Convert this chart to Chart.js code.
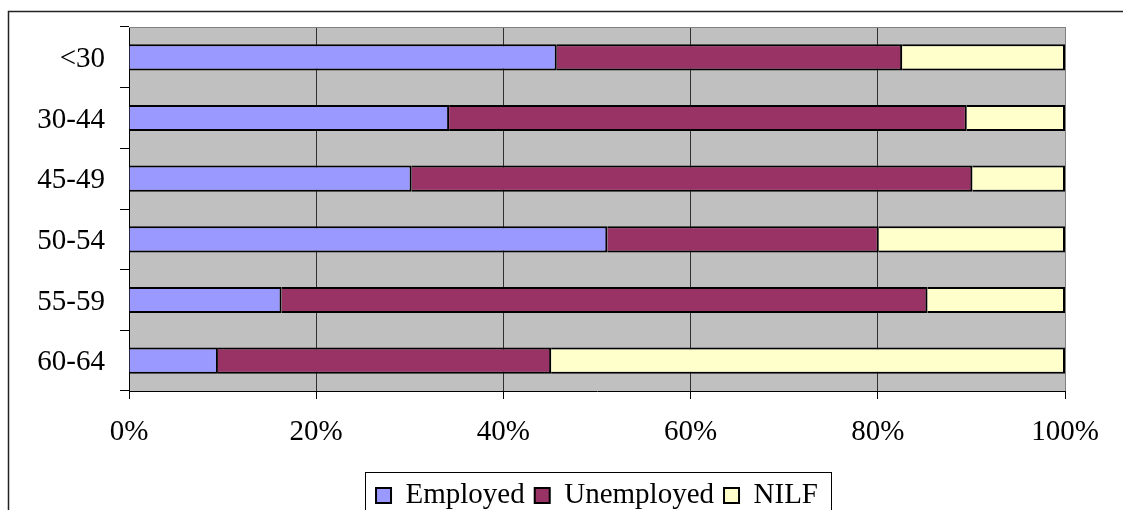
<!DOCTYPE html>
<html>
<head>
<meta charset="utf-8">
<script src="https://cdn.jsdelivr.net/npm/chart.js@4"></script>
<style>
  html, body { margin: 0; padding: 0; background: #fff; overflow: hidden; }
  canvas { display: block; }
</style>
</head>
<body>
<canvas id="labourChart" width="1123" height="523"></canvas>
<script>
// age groups and labour status shares (%)
const ageGroups = ['<30', '30-44', '45-49', '50-54', '55-59', '60-64'];
const employed = [45.7, 34.2, 30.2, 51.1, 16.3, 9.5];
const unemployed = [36.9, 55.3, 59.9, 29.0, 69.0, 35.6];
const nilf = [17.4, 10.5, 9.9, 19.9, 14.7, 54.9];
const xTicks = [0, 20, 40, 60, 80, 100];

const serif = { family: '"Liberation Serif", "Times New Roman", serif', size: 29 };

// grey plot background, plot frame, outer frame and legend box
const framePlugin = {
  id: 'frames',
  beforeDraw(chart) {
    const { ctx, chartArea: a } = chart;
    ctx.save();
    ctx.fillStyle = '#C0C0C0';
    ctx.fillRect(a.left, a.top, a.right - a.left, a.bottom - a.top);
    ctx.restore();
  },
  beforeDatasetsDraw(chart) {
    const { ctx, chartArea: a } = chart;
    ctx.save();
    ctx.strokeStyle = '#808080';
    ctx.lineWidth = 1;
    ctx.beginPath();
    ctx.moveTo(a.left, a.top + 0.5);
    ctx.lineTo(a.right, a.top + 0.5);
    ctx.stroke();
    ctx.restore();
  },
  afterDraw(chart) {
    const { ctx, legend } = chart;
    ctx.save();
    ctx.strokeStyle = '#222';
    ctx.lineWidth = 1.5;
    ctx.beginPath();
    ctx.moveTo(8.5, chart.height + 5);
    ctx.lineTo(8.5, 11.5);
    ctx.lineTo(chart.width + 5, 11.5);
    ctx.stroke();

    const boxes = legend.legendHitBoxes;
    if (boxes && boxes.length) {
      const first = boxes[0];
      const last = boxes[boxes.length - 1];
      const left = Math.round(first.left - 11) + 0.5;
      const right = Math.round(last.left + last.width + 13) + 0.5;
      const top = 472.5;
      ctx.strokeStyle = '#000';
      ctx.lineWidth = 1;
      ctx.strokeRect(left, top, right - left, chart.height + 20 - top);
    }
    ctx.restore();
  }
};

const data = {
  labels: ageGroups,
  datasets: [
    { label: 'Employed', data: employed, backgroundColor: '#9999FF' },
    { label: 'Unemployed', data: unemployed, backgroundColor: '#993366' },
    { label: 'NILF', data: nilf, backgroundColor: '#FFFFCC' },
  ].map(ds => Object.assign(ds, {
    borderColor: '#000',
    borderWidth: 2,
    borderSkipped: 'start',
    categoryPercentage: 1,
    barPercentage: 0.43,
  })),
};

const options = {
  indexAxis: 'y',
  responsive: false,
  animation: false,
  layout: { padding: { top: 27, right: 58, bottom: 3, left: 0 } },
  scales: {
    x: {
      stacked: true,
      min: 0,
      max: 100,
      afterBuildTicks: (scale) => { scale.ticks = xTicks.map(v => ({ value: v })); },
      afterFit: (scale) => { scale.height = 80; },
      ticks: {
        color: '#000',
        font: serif,
        padding: 16,
        maxRotation: 0,
        callback: (v) => v + '%',
      },
      grid: {
        color: (c) => (c.tick && c.tick.value === 100 ? '#808080' : '#303030'),
        tickColor: '#000',
        tickLength: 8,
        lineWidth: 1,
      },
      border: { display: true, color: '#000', width: 1 },
    },
    y: {
      stacked: true,
      afterFit: (scale) => {
        scale.width = 129;
        // labels sit inside their categories, no extra room needed above/below
        scale.paddingTop = 0;
        scale.paddingBottom = 0;
      },
      ticks: { color: '#000', font: serif, padding: 15, labelOffset: 2 },
      grid: {
        drawOnChartArea: false,
        tickColor: '#000',
        tickLength: 9,
        offset: true,
      },
      border: { display: true, color: '#000', width: 1 },
    },
  },
  plugins: {
    legend: {
      position: 'bottom',
      fullSize: false,
      labels: {
        color: '#000',
        font: serif,
        boxWidth: 15,
        boxHeight: 15,
        padding: 10,
      },
    },
    tooltip: { enabled: false },
  },
};

const ctx = document.getElementById('labourChart').getContext('2d');
const chart = new Chart(ctx, {
  type: 'bar',
  data: data,
  options: options,
  plugins: [framePlugin],
});
</script>
</body>
</html>
